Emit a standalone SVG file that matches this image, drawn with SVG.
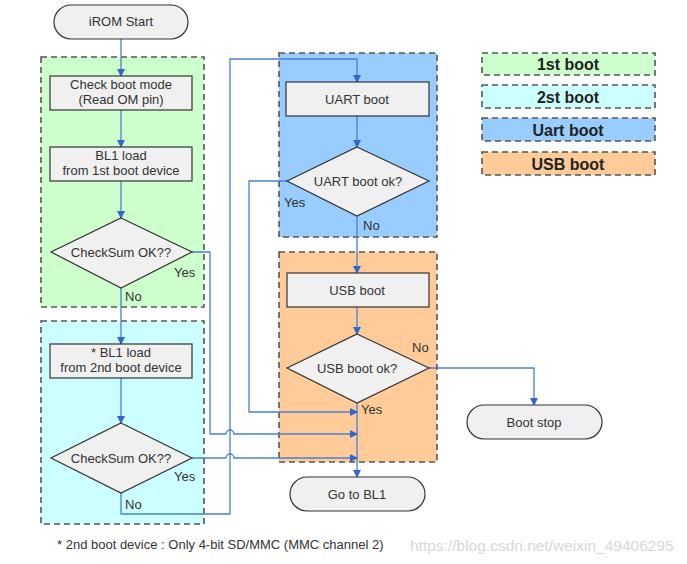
<svg xmlns="http://www.w3.org/2000/svg" width="687" height="564" viewBox="0 0 687 564">
<style>
.region{stroke:#555;stroke-width:1.6;stroke-dasharray:6,4}
.node{fill:#f0f0f0;stroke:#333;stroke-width:1.2}
.t{font-family:"Liberation Sans",Arial,sans-serif;font-size:13px;fill:#333;text-anchor:middle}
.lbl{font-family:"Liberation Sans",Arial,sans-serif;font-size:13px;fill:#333}
.leg{font-family:"Liberation Sans",Arial,sans-serif;font-size:16px;font-weight:bold;fill:#222;text-anchor:middle}
.c{fill:none;stroke:#4a7fd6;stroke-width:1.3}
</style>
<defs>
<marker id="ah" markerWidth="8" markerHeight="8" refX="7" refY="4" orient="auto" markerUnits="userSpaceOnUse">
<path d="M0,0 L8,4 L0,8 Z" fill="#3366cc"/>
</marker>
</defs>
<rect width="687" height="564" fill="#fff"/>
<g id="regions">
<rect class="region" x="41" y="57" width="163" height="250" fill="#ccffcc"/>
<rect class="region" x="41" y="321" width="163" height="203" fill="#ccffff"/>
<rect class="region" x="279" y="53" width="158" height="184" fill="#99ccff"/>
<rect class="region" x="279" y="252" width="158" height="210" fill="#ffcc99"/>
</g>
<g id="legend">
<rect class="region" x="482" y="53" width="173" height="22" fill="#ccffcc"/>
<text class="leg" x="568" y="70">1st boot</text>
<rect class="region" x="482" y="85" width="173" height="23" fill="#ccffff"/>
<text class="leg" x="568" y="103">2st boot</text>
<rect class="region" x="482" y="118" width="173" height="23" fill="#99ccff"/>
<text class="leg" x="568" y="136">Uart boot</text>
<rect class="region" x="482" y="152" width="173" height="23" fill="#ffcc99"/>
<text class="leg" x="568" y="170">USB boot</text>
</g>
<g id="connectors">
<path class="c" d="M121,39 V76" marker-end="url(#ah)"/>
<path class="c" d="M121,110 V147" marker-end="url(#ah)"/>
<path class="c" d="M121,181 V218" marker-end="url(#ah)"/>
<path class="c" d="M121,288 V344" marker-end="url(#ah)"/>
<path class="c" d="M121,378 V423" marker-end="url(#ah)"/>
<path class="c" d="M121,493 V514 H230 V59 H357 V82" marker-end="url(#ah)"/>
<path class="c" d="M357,116 V147" marker-end="url(#ah)"/>
<path class="c" d="M357,216 V273" marker-end="url(#ah)"/>
<path class="c" d="M357,307 V334" marker-end="url(#ah)"/>
<path class="c" d="M357,403 V477" marker-end="url(#ah)"/>
<path class="c" d="M287,181 H249 V412 H357" marker-end="url(#ah)"/>
<path class="c" d="M192,252 H210 V434 H226 A4,4 0 0 1 234,434 H357" marker-end="url(#ah)"/>
<path class="c" d="M192,458 H226 A4,4 0 0 1 234,458 H357" marker-end="url(#ah)"/>
<path class="c" d="M429,368 H534 V405" marker-end="url(#ah)"/>
</g>
<g id="iromStart">
<rect class="node" x="54" y="5" width="134" height="34" rx="17"/>
<text class="t" x="121" y="26">iROM Start</text>
</g>
<g id="checkBootMode">
<rect class="node" x="50" y="76" width="142" height="34"/>
<text class="t" x="121" y="89">Check boot mode</text>
<text class="t" x="121" y="104">(Read OM pin)</text>
</g>
<g id="bl1Load1">
<rect class="node" x="50" y="147" width="142" height="34"/>
<text class="t" x="121" y="160">BL1 load</text>
<text class="t" x="121" y="175">from 1st boot device</text>
</g>
<g id="checksum1">
<polygon class="node" points="121,218 192,252 121,288 51,252"/>
<text class="t" x="121" y="257">CheckSum OK??</text>
<text class="lbl" x="174" y="277">Yes</text>
<text class="lbl" x="125" y="301">No</text>
</g>
<g id="bl1Load2">
<rect class="node" x="50" y="344" width="142" height="34"/>
<text class="t" x="121" y="357">* BL1 load</text>
<text class="t" x="121" y="372">from 2nd boot device</text>
</g>
<g id="checksum2">
<polygon class="node" points="121,423 192,458 121,493 51,458"/>
<text class="t" x="121" y="463">CheckSum OK??</text>
<text class="lbl" x="174" y="481">Yes</text>
<text class="lbl" x="125" y="509">No</text>
</g>
<g id="uartBoot">
<rect class="node" x="286" y="82" width="143" height="34"/>
<text class="t" x="357" y="104">UART boot</text>
</g>
<g id="uartOk">
<polygon class="node" points="357,147 429,181 357,216 287,181"/>
<text class="t" x="358" y="186">UART boot ok?</text>
<text class="lbl" x="284" y="207">Yes</text>
<text class="lbl" x="363" y="230">No</text>
</g>
<g id="usbBoot">
<rect class="node" x="287" y="273" width="142" height="34"/>
<text class="t" x="357" y="295">USB boot</text>
</g>
<g id="usbOk">
<polygon class="node" points="357,334 429,368 357,403 287,368"/>
<text class="t" x="357" y="373">USB boot ok?</text>
<text class="lbl" x="412" y="352">No</text>
<text class="lbl" x="361" y="414">Yes</text>
</g>
<g id="bootStop">
<rect class="node" x="467" y="405" width="135" height="34" rx="17"/>
<text class="t" x="534" y="427">Boot stop</text>
</g>
<g id="goToBL1">
<rect class="node" x="290" y="477" width="135" height="34" rx="17"/>
<text class="t" x="357" y="499">Go to BL1</text>
</g>
<text class="lbl" x="57" y="549">* 2nd boot device : Only 4-bit SD/MMC (MMC channel 2)</text>
<text class="lbl" x="410" y="551" style="fill:#d8d8d8;font-size:15.5px">https://blog.csdn.net/weixin_49406295</text>
</svg>
